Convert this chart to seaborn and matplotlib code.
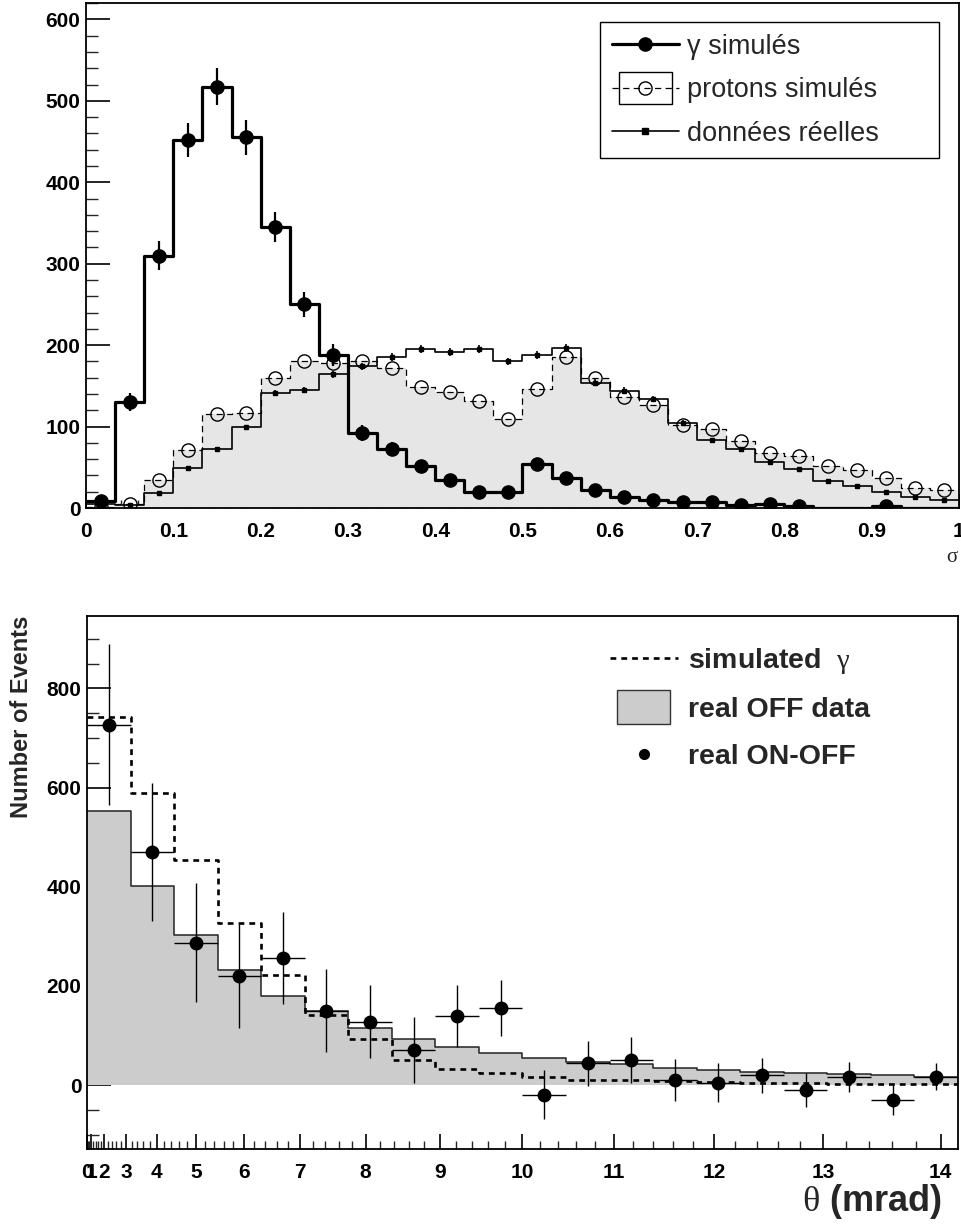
import numpy as np
import pandas as pd
import matplotlib
matplotlib.use("Agg")
import matplotlib.pyplot as plt
import seaborn as sns
from matplotlib.lines import Line2D
from matplotlib.patches import Patch, Rectangle
from matplotlib.legend_handler import HandlerPatch
from matplotlib.ticker import FixedLocator, MultipleLocator

# ---------------- top panel data (sigma, 30 bins on [0,1]) ----------------
sigma_edges = np.linspace(0.0, 1.0, 31)
gamma_sim = [9, 130, 310, 452, 517, 455, 345, 250, 188, 92,
             73, 52, 34, 20, 20, 54, 37, 22, 13, 10,
             8, 7, 4, 5, 3, 0, 0, 3, 0, 0]
gamma_err = [3, 11.4, 17.6, 21.3, 22.7, 21.3, 18.6, 15.8, 13.7, 9.6,
             8.5, 7.2, 5.8, 4.5, 4.5, 7.3, 6.1, 4.7, 3.6, 3.2,
             2.8, 2.6, 2.0, 2.2, 1.7, 0, 0, 1.7, 0, 0]
protons_sim = [1, 5, 35, 71, 116, 117, 160, 181, 178, 181,
               172, 148, 143, 132, 109, 146, 186, 160, 136, 127,
               102, 97, 82, 68, 64, 52, 47, 37, 24, 22]
real_data = [5, 4, 19, 49, 72, 99, 141, 145, 164, 174,
             185, 195, 192, 195, 180, 188, 196, 154, 144, 134,
             105, 83, 72, 56, 48, 33, 27, 20, 14, 10]
real_err = [1, 1, 1.5, 2.5, 3, 3.5, 4, 4, 4.5, 4.5,
            4.8, 5, 5, 5, 4.7, 4.8, 5, 4.3, 4.2, 4,
            3.6, 3.2, 3, 2.6, 2.4, 2, 1.8, 1.6, 1.3, 1.1]
top_labels = ["γ simulés", "protons simulés", "données réelles"]
sigma_tick_labels = ["0", "0.1", "0.2", "0.3", "0.4", "0.5", "0.6", "0.7", "0.8", "0.9", "1"]

# ---------------- bottom panel data (theta^2 bins of 10 mrad^2) ----------------
theta2_edges = np.arange(0, 201, 10)
sim_gamma = [742, 590, 455, 327, 222, 141, 92, 50, 32, 24,
             17, 11, 10, 9, 7, 5, 5, 3, 3, 2]
off_data = [553, 402, 303, 233, 180, 149, 116, 92, 76, 64,
            55, 46, 42, 35, 30, 27, 25, 22, 21, 17]
on_off = [727, 470, 287, 220, 257, 150, 128, 71, 139, 155,
          -19, 44, 50, 10, 5, 20, -10, 17, -30, 17]
on_off_err = [163, 139, 120, 105, 93, 84, 74, 67, 62, 57,
              50, 45, 46, 42, 39, 35, 34, 30, 30, 27]
bottom_labels = ["simulated  $\\mathrm{γ}$", "real OFF data", "real ON-OFF"]
theta_tick_values = list(range(0, 15))

# ---------------- style ----------------
sns.set_theme(style="ticks")
plt.rcParams["font.family"] = ["Liberation Sans", "DejaVu Sans"]
plt.rcParams["mathtext.fontset"] = "custom"
plt.rcParams["mathtext.rm"] = "Liberation Serif"
plt.rcParams["mathtext.it"] = "Liberation Serif:italic"
plt.rcParams["mathtext.bf"] = "Liberation Serif:bold"

fig = plt.figure(figsize=(9.61, 12.28), dpi=100)
ax1 = fig.add_axes([0.0895, 0.5863, 0.9084, 0.4112])
ax2 = fig.add_axes([0.0905, 0.0643, 0.9063, 0.4340])

K = "black"

# ---------------- top panel ----------------
s_cent = 0.5 * (sigma_edges[:-1] + sigma_edges[1:])
s_bins = sigma_edges.tolist()
top_df = pd.DataFrame({"sigma": s_cent, "gamma": gamma_sim,
                       "protons": protons_sim, "data": real_data})
sns.histplot(data=top_df, x="sigma", weights="protons", bins=s_bins, element="step",
             fill=True, color="#e6e6e6", alpha=1, linewidth=0, ax=ax1)
sns.histplot(data=top_df, x="sigma", weights="data", bins=s_bins, element="step",
             fill=False, color=K, linewidth=1.2, ax=ax1)
sns.histplot(data=top_df, x="sigma", weights="protons", bins=s_bins, element="step",
             fill=False, color=K, linewidth=0.9, linestyle=(0, (5, 3.5)), ax=ax1)
sns.histplot(data=top_df, x="sigma", weights="gamma", bins=s_bins, element="step",
             fill=False, color=K, linewidth=2.3, ax=ax1)

g = np.array(gamma_sim, dtype=float)
m = g > 0
ax1.errorbar(s_cent[m], g[m], yerr=np.array(gamma_err)[m], fmt="o", ms=9.5,
             color=K, elinewidth=1.6, capsize=0, zorder=5)
ax1.plot(s_cent, protons_sim, "o", ms=9.5, mfc="none", mec=K, mew=1.0, zorder=4)
ax1.errorbar(s_cent, real_data, yerr=real_err, fmt="s", ms=3.5, color=K,
             elinewidth=1.2, capsize=0, zorder=4)

ax1.set_xlim(0, 1)
ax1.set_ylim(0, 620)
ax1.set_xticks(np.linspace(0, 1, 11), sigma_tick_labels, fontsize=15, fontweight="bold")
ax1.xaxis.set_minor_locator(MultipleLocator(0.02))
ax1.set_yticks(np.arange(0, 601, 100), [str(v) for v in range(0, 601, 100)],
               fontsize=15, fontweight="bold")
ax1.yaxis.set_minor_locator(MultipleLocator(20))
ax1.set_ylabel("")
ax1.set_xlabel("$\\mathrm{σ}$", fontsize=15, loc="right")
ax1.xaxis.set_label_coords(1.0, -0.078)

def patch_box(legend, orig_handle, xdescent, ydescent, width, height, fontsize):
    return Rectangle((-xdescent + 0.11 * width, -ydescent - 0.35 * height),
                     0.78 * width, 1.7 * height)

h_gamma = Line2D([], [], color=K, lw=2.3, marker="o", ms=9.5)
h_prot = (Patch(facecolor="white", edgecolor=K, lw=1.0),
          Line2D([], [], color=K, lw=0.9, ls=(0, (5, 3.5)), marker="o",
                 mfc="none", mec=K, ms=9.5))
h_data = Line2D([], [], color=K, lw=1.2, marker="s", ms=4)
leg1 = ax1.legend([h_gamma, h_prot, h_data], top_labels,
                  loc="upper left", bbox_to_anchor=(0.589, 0.697, 0.388, 0.265),
                  mode="expand", borderaxespad=0, fancybox=False, framealpha=1,
                  edgecolor=K, prop={"family": "Liberation Sans", "size": 19.5},
                  handlelength=2.5, handletextpad=0.3, borderpad=0.42,
                  labelspacing=0.65, handler_map={Patch: HandlerPatch(patch_func=patch_box)})
leg1.get_frame().set_linewidth(1.0)

# ---------------- bottom panel ----------------
t_cent = 0.5 * (theta2_edges[:-1] + theta2_edges[1:])
t_half = np.diff(theta2_edges) / 2
t_bins = theta2_edges.tolist()
bot_df = pd.DataFrame({"theta2": t_cent, "sim": sim_gamma, "off": off_data})
sns.histplot(data=bot_df, x="theta2", weights="off", bins=t_bins, element="step",
             fill=True, color="#cccccc", alpha=1, linewidth=0, ax=ax2)
sns.histplot(data=bot_df, x="theta2", weights="off", bins=t_bins, element="step",
             fill=False, color="#222222", linewidth=1.1, ax=ax2)
sns.histplot(data=bot_df, x="theta2", weights="sim", bins=t_bins, element="step",
             fill=False, color=K, linewidth=1.9, linestyle=(0, (2.2, 1.9)), ax=ax2)
ax2.errorbar(t_cent, on_off, xerr=t_half, yerr=on_off_err, fmt="o", ms=9,
             color=K, elinewidth=1.0, capsize=0, zorder=5)

ax2.set_xlim(0, 200)
ax2.set_ylim(-129, 946)
ax2.set_xticks([v ** 2 for v in theta_tick_values], [str(v) for v in theta_tick_values],
               fontsize=15, fontweight="bold")
ax2.xaxis.set_minor_locator(FixedLocator([(0.2 * k) ** 2 for k in range(71) if k % 5]))
ax2.set_yticks(np.arange(0, 801, 200), [str(v) for v in range(0, 801, 200)],
               fontsize=15, fontweight="bold")
ax2.yaxis.set_minor_locator(MultipleLocator(50))
ax2.set_ylabel("Number of Events", fontsize=17, fontweight="bold", loc="top")
ax2.yaxis.set_label_coords(-0.062, 1.0)
ax2.set_xlabel("$\\mathrm{θ}$ (mrad)", fontsize=26, fontweight="bold", loc="right")
ax2.xaxis.set_label_coords(0.982, -0.062)

h_sim = Line2D([], [], color=K, lw=1.9, ls=(0, (2.2, 1.9)))
h_off = Patch(facecolor="#cccccc", edgecolor="#333333", lw=1.0)
h_pts = Line2D([], [], color=K, ls="none", marker="o", ms=7)
leg2 = ax2.legend([h_sim, h_off, h_pts], bottom_labels, loc="upper left",
                  bbox_to_anchor=(0.6, 0.944), borderaxespad=0, borderpad=0,
                  frameon=False, prop={"family": "Liberation Sans", "weight": "bold", "size": 20.5},
                  handlelength=2.4, handletextpad=0.35, labelspacing=0.73,
                  handler_map={Patch: HandlerPatch(patch_func=patch_box)})

for ax in (ax1, ax2):
    for sp in ax.spines.values():
        sp.set_linewidth(1.3)
        sp.set_color(K)
    ax.tick_params(axis="y", which="major", direction="in", length=17, width=1.2,
                   pad=4, left=True, right=False, colors=K)
    ax.tick_params(axis="y", which="minor", direction="in", length=8.5, width=1.0,
                   left=True, right=False)
    ax.tick_params(axis="x", which="major", direction="in", length=11, width=1.2,
                   pad=10, bottom=True, top=False, colors=K)
    ax.tick_params(axis="x", which="minor", direction="in", length=5.5, width=1.0,
                   bottom=True, top=False)
    ax.set_facecolor("white")

fig.savefig("out.png", dpi=100, facecolor="white")
